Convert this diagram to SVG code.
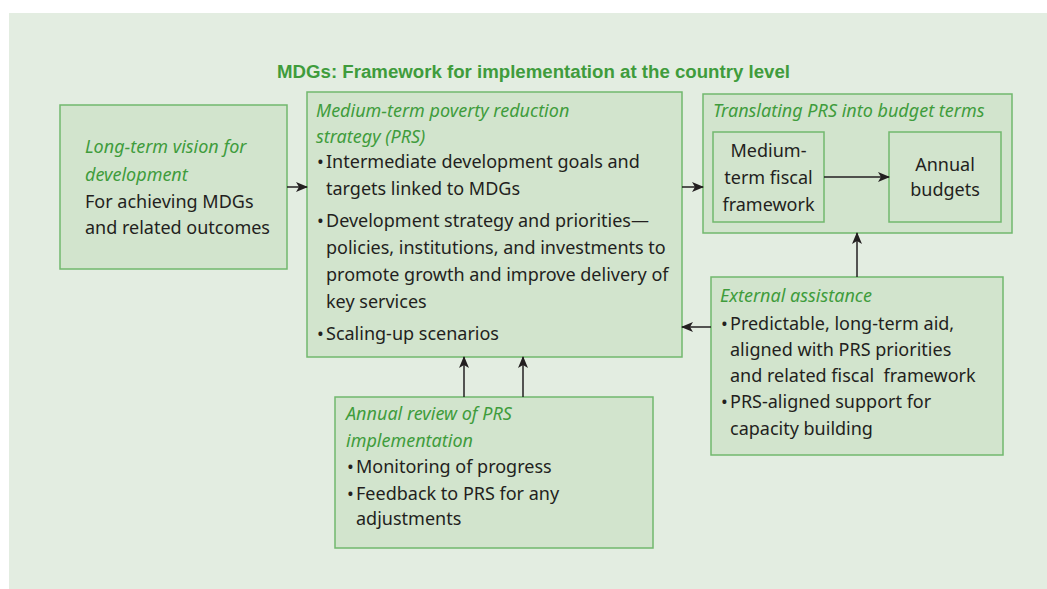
<svg xmlns="http://www.w3.org/2000/svg" width="1047" height="589" viewBox="0 0 1047 589">
<style>
.box{fill:#d2e4cd;stroke:#72b86d;stroke-width:1.5}
.t{font-family:"Noto Sans","Liberation Sans",sans-serif;font-size:18px;fill:#231f20}
.h{font-family:"Noto Sans","Liberation Sans",sans-serif;font-size:18px;font-style:italic;fill:#3f9c3c}
.c{text-anchor:middle}
.ttl{font-family:"Liberation Sans",sans-serif;font-weight:bold;font-size:18px;fill:#3f9c3c}
.ln{stroke:#231f20;stroke-width:1.5;fill:none}
</style>
<defs>
<marker id="ah" markerUnits="userSpaceOnUse" markerWidth="12" markerHeight="10" refX="11" refY="5" orient="auto">
<path d="M0,0 L12,5 L0,10 L3,5 z" fill="#231f20"/>
</marker>
</defs>
<rect x="9" y="13" width="1038" height="576" fill="#e3ede1"/>
<text class="ttl" x="277" y="78" textLength="513" lengthAdjust="spacingAndGlyphs">MDGs: Framework for implementation at the country level</text>

<g id="vision">
<rect class="box" x="60" y="105" width="227" height="164"/>
<text class="h" x="85" y="153">Long-term vision for</text>
<text class="h" x="85" y="181">development</text>
<text class="t" x="85" y="208">For achieving MDGs</text>
<text class="t" x="85" y="234">and related outcomes</text>
</g>

<g id="prs">
<rect class="box" x="307" y="92" width="375" height="265"/>
<text class="h" x="316" y="117">Medium-term poverty reduction</text>
<text class="h" x="316" y="143">strategy (PRS)</text>
<text class="t" x="317" y="168">•<tspan x="326">Intermediate development goals and</tspan></text>
<text class="t" x="326" y="195">targets linked to MDGs</text>
<text class="t" x="317" y="227">•<tspan x="326">Development strategy and priorities—</tspan></text>
<text class="t" x="326" y="254">policies, institutions, and investments to</text>
<text class="t" x="326" y="281">promote growth and improve delivery of</text>
<text class="t" x="326" y="308">key services</text>
<text class="t" x="317" y="340">•<tspan x="326">Scaling-up scenarios</tspan></text>
</g>

<g id="budget">
<rect class="box" x="703" y="94" width="309" height="139"/>
<text class="h" x="713" y="117">Translating PRS into budget terms</text>
</g>

<g id="mtff">
<rect class="box" x="713" y="132" width="111" height="90"/>
<text class="t c" x="768.5" y="157">Medium-</text>
<text class="t c" x="768.5" y="184">term fiscal</text>
<text class="t c" x="768.5" y="211">framework</text>
</g>

<g id="annual">
<rect class="box" x="889" y="132" width="112" height="90"/>
<text class="t c" x="945" y="171">Annual</text>
<text class="t c" x="945" y="196">budgets</text>
</g>

<g id="external">
<rect class="box" x="711" y="277" width="292" height="178"/>
<text class="h" x="720" y="302">External assistance</text>
<text class="t" x="721" y="330">•<tspan x="730">Predictable, long-term aid,</tspan></text>
<text class="t" x="730" y="356">aligned with PRS priorities</text>
<text class="t" x="730" y="382">and related fiscal&#160; framework</text>
<text class="t" x="721" y="408">•<tspan x="730">PRS-aligned support for</tspan></text>
<text class="t" x="730" y="435">capacity building</text>
</g>

<g id="review">
<rect class="box" x="335" y="397" width="318" height="151"/>
<text class="h" x="346" y="420">Annual review of PRS</text>
<text class="h" x="346" y="447">implementation</text>
<text class="t" x="347" y="473">•<tspan x="356">Monitoring of progress</tspan></text>
<text class="t" x="347" y="500">•<tspan x="356">Feedback to PRS for any</tspan></text>
<text class="t" x="356" y="525">adjustments</text>
</g>

<g id="connectors">
<line class="ln" x1="287" y1="187" x2="307" y2="187" marker-end="url(#ah)"/>
<line class="ln" x1="682" y1="187" x2="703" y2="187" marker-end="url(#ah)"/>
<line class="ln" x1="824" y1="177" x2="889" y2="177" marker-end="url(#ah)"/>
<line class="ln" x1="857" y1="277" x2="857" y2="233" marker-end="url(#ah)"/>
<line class="ln" x1="711" y1="327" x2="682" y2="327" marker-end="url(#ah)"/>
<line class="ln" x1="464" y1="397" x2="464" y2="357" marker-end="url(#ah)"/>
<line class="ln" x1="523" y1="397" x2="523" y2="357" marker-end="url(#ah)"/>
</g>
</svg>
